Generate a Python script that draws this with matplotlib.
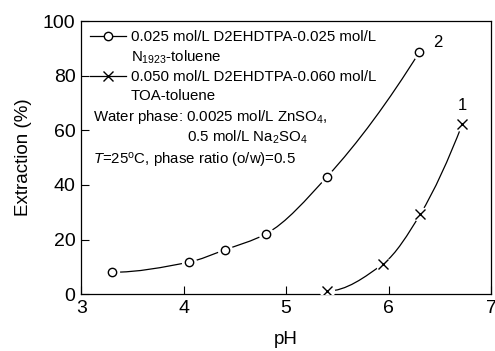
import numpy as np
import matplotlib
matplotlib.use('Agg')
import matplotlib.pyplot as plt
from matplotlib.path import Path
from matplotlib.patches import PathPatch
from matplotlib.lines import Line2D

plt.rcParams['font.family'] = 'Liberation Sans'
plt.rcParams['mathtext.fontset'] = 'custom'
plt.rcParams['mathtext.rm'] = 'Liberation Sans'
plt.rcParams['mathtext.it'] = 'Liberation Sans:italic'

# data
ph_2 = [3.3, 4.05, 4.4, 4.8, 5.4, 6.3]
ext_2 = [8, 11.7, 16.2, 22, 43, 88.6]
ph_1 = [5.4, 5.95, 6.31, 6.72]
ext_1 = [1.1, 11.2, 29.3, 62.3]

label_2 = ['0.025 mol/L D2EHDTPA-0.025 mol/L', 'N$_{1923}$-toluene']
label_1 = ['0.050 mol/L D2EHDTPA-0.060 mol/L', 'TOA-toluene']


def smooth_path(x, y):
    # monotone cubic (Fritsch-Carlson style) drawn as bezier segments
    x = np.asarray(x, float)
    y = np.asarray(y, float)
    h = np.diff(x)
    s = np.diff(y) / h
    d = np.zeros_like(x)
    for k in range(1, len(x) - 1):
        if s[k - 1] * s[k] > 0:
            w1 = 2 * h[k] + h[k - 1]
            w2 = h[k] + 2 * h[k - 1]
            d[k] = (w1 + w2) / (w1 / s[k - 1] + w2 / s[k])
    d[0] = ((2 * h[0] + h[1]) * s[0] - h[0] * s[1]) / (h[0] + h[1])
    d[-1] = ((2 * h[-1] + h[-2]) * s[-1] - h[-1] * s[-2]) / (h[-1] + h[-2])
    d[0] = max(d[0], 0)
    verts = [(x[0], y[0])]
    codes = [Path.MOVETO]
    for k in range(len(x) - 1):
        verts += [(x[k] + h[k] / 3, y[k] + d[k] * h[k] / 3),
                  (x[k + 1] - h[k] / 3, y[k + 1] - d[k + 1] * h[k] / 3),
                  (x[k + 1], y[k + 1])]
        codes += [Path.CURVE4] * 3
    return Path(verts, codes)


fig, ax = plt.subplots(figsize=(4.95, 3.51), dpi=100)
fig.subplots_adjust(left=0.164, right=0.992, top=0.94, bottom=0.162)

for x, y, m, ms in [(ph_2, ext_2, 'o', 6), (ph_1, ext_1, 'x', 7)]:
    ax.add_patch(PathPatch(smooth_path(x, y), fill=False, lw=0.9, color='black', zorder=2))
    ax.plot(x, y, ls='none', marker='o', ms=11, mfc='white', mec='none', zorder=3)
    ax.plot(x, y, ls='none', marker=m, ms=ms, mfc='white', mec='black', mew=1.0, zorder=4)

ax.text(6.48, 92, '2', fontsize=12, ha='center', va='center')
ax.text(6.72, 69, '1', fontsize=12, ha='center', va='center')

fs = 10.8
h2 = Line2D([], [], color='black', lw=0.9, marker='o', ms=6, mfc='white', mec='black')
h1 = Line2D([], [], color='black', lw=0.9, marker='x', ms=7, mec='black')
blank = Line2D([], [], color='none')
ax.legend([h2, blank, h1, blank], [label_2[0], label_2[1], label_1[0], label_1[1]],
          loc='upper left', frameon=False, fontsize=fs, handlelength=2.4,
          handletextpad=0.3, labelspacing=0.3, borderaxespad=0.3,
          borderpad=0.3)

ax.text(0.029, 0.648, 'Water phase: 0.0025 mol/L ZnSO$_4$,', transform=ax.transAxes,
        fontsize=fs, va='center')
ax.text(0.259, 0.575, '0.5 mol/L Na$_2$SO$_4$', transform=ax.transAxes,
        fontsize=fs, va='center')
ax.text(0.029, 0.491, '$T$=25$^{\\rm o}$C, phase ratio (o/w)=0.5', transform=ax.transAxes,
        fontsize=fs, va='center')

ax.set_xlim(3, 7)
ax.set_ylim(0, 100)
ax.set_xticks([3, 4, 5, 6, 7])
ax.set_yticks([0, 20, 40, 60, 80, 100])
ax.tick_params(direction='in', length=5.5, width=0.8, labelsize=14, pad=4)
ax.set_xlabel('pH', fontsize=13.5, labelpad=10)
ax.set_ylabel('Extraction (%)', fontsize=13.5, labelpad=8)
for s in ax.spines.values():
    s.set_linewidth(0.9)

fig.savefig('out.png', dpi=100)
